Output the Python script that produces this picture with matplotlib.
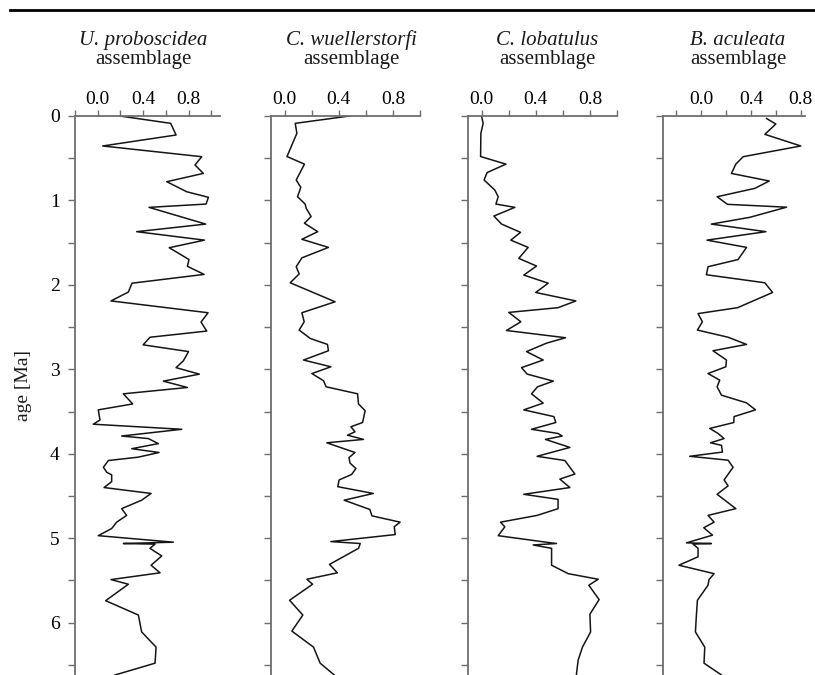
import matplotlib
matplotlib.use("Agg")
import matplotlib.pyplot as plt
from matplotlib.ticker import MultipleLocator, FixedLocator
from matplotlib.lines import Line2D

plt.rcParams['font.family'] = ['Liberation Serif', 'DejaVu Serif']

# ---- data ----
# U. proboscidea assemblage
age_up = [0.0, 0.087, 0.225, 0.355, 0.482, 0.58, 0.68, 0.778, 0.897, 0.963,
          1.043, 1.082, 1.28, 1.37, 1.47, 1.56, 1.70, 1.78, 1.876, 1.98,
          2.085, 2.19, 2.33, 2.44, 2.547, 2.62, 2.71, 2.79, 2.9, 2.98,
          3.057, 3.14, 3.215, 3.29, 3.41, 3.48, 3.60, 3.65, 3.71, 3.79,
          3.82, 3.88, 3.94, 3.985, 4.04, 4.08, 4.16, 4.22, 4.25, 4.33,
          4.40, 4.47, 4.55, 4.65, 4.73, 4.81, 4.885, 4.97, 5.047, 5.063,
          5.07, 5.12, 5.21, 5.32, 5.41, 5.49, 5.545, 5.74, 5.91, 6.11,
          6.29, 6.48, 6.62]
val_up = [0.196, 0.643, 0.69, 0.044, 0.916, 0.857, 0.93, 0.608, 0.784, 0.975,
          0.954, 0.452, 0.951, 0.343, 0.94, 0.63, 0.804, 0.79, 0.937, 0.302,
          0.27, 0.117, 0.972, 0.91, 0.96, 0.461, 0.40, 0.80, 0.754, 0.69,
          0.895, 0.578, 0.79, 0.226, 0.308, 0.005, 0.02, -0.039, 0.74, 0.211,
          0.446, 0.534, 0.30, 0.54, 0.358, 0.094, 0.05, 0.08, 0.123, 0.123,
          0.056, 0.47, 0.387, 0.211, 0.255, 0.167, 0.123, 0.005, 0.666, 0.226,
          0.505, 0.46, 0.564, 0.47, 0.549, 0.117, 0.27, 0.07, 0.358, 0.387,
          0.514, 0.505, 0.152]

# C. wuellerstorfi assemblage
age_cw = [0.0, 0.087, 0.205, 0.48, 0.57, 0.758, 0.845, 0.956, 1.043, 1.094,
          1.19, 1.27, 1.37, 1.46, 1.556, 1.68, 1.785, 1.87, 1.975, 2.2,
          2.33, 2.437, 2.535, 2.634, 2.705, 2.78, 2.89, 2.97, 3.05, 3.136,
          3.207, 3.29, 3.41, 3.49, 3.63, 3.68, 3.74, 3.78, 3.83, 3.87,
          3.985, 4.045, 4.11, 4.175, 4.245, 4.31, 4.39, 4.47, 4.55, 4.66,
          4.735, 4.81, 4.865, 4.957, 5.04, 5.063, 5.12, 5.31, 5.41, 5.486,
          5.545, 5.735, 5.91, 6.10, 6.29, 6.48, 6.62]
val_cw = [0.48, 0.079, 0.091, 0.018, 0.147, 0.086, 0.12, 0.096, 0.152, 0.16,
          0.196, 0.147, 0.245, 0.128, 0.324, 0.128, 0.086, 0.108, 0.042, 0.373,
          0.128, 0.145, 0.108, 0.189, 0.317, 0.324, 0.14, 0.342, 0.202, 0.288,
          0.307, 0.539, 0.546, 0.595, 0.576, 0.49, 0.52, 0.465, 0.583, 0.312,
          0.52, 0.476, 0.483, 0.527, 0.495, 0.403, 0.393, 0.655, 0.44, 0.63,
          0.645, 0.853, 0.81, 0.817, 0.342, 0.559, 0.546, 0.332, 0.39, 0.165,
          0.207, 0.037, 0.135, 0.054, 0.214, 0.263, 0.367]

# C. lobatulus assemblage
age_cl = [0.0, 0.087, 0.205, 0.48, 0.57, 0.67, 0.758, 0.877, 0.956, 1.043,
          1.082, 1.185, 1.28, 1.378, 1.47, 1.556, 1.686, 1.777, 1.884, 1.98,
          2.09, 2.19, 2.27, 2.326, 2.437, 2.54, 2.626, 2.69, 2.79, 2.89,
          2.98, 3.057, 3.14, 3.207, 3.29, 3.40, 3.48, 3.56, 3.63, 3.71,
          3.76, 3.79, 3.83, 3.925, 4.03, 4.08, 4.24, 4.30, 4.40, 4.48,
          4.54, 4.65, 4.73, 4.81, 4.865, 4.97, 5.04, 5.063, 5.08, 5.12,
          5.32, 5.42, 5.486, 5.557, 5.727, 5.90, 6.11, 6.29, 6.445, 6.62]
val_cl = [0.0, 0.012, -0.005, -0.007, 0.18, 0.041, 0.019, 0.098, 0.123, 0.106,
          0.246, 0.091, 0.148, 0.288, 0.216, 0.344, 0.275, 0.406, 0.312, 0.492,
          0.40, 0.696, 0.565, 0.201, 0.29, 0.184, 0.62, 0.48, 0.332, 0.455,
          0.295, 0.337, 0.53, 0.413, 0.369, 0.455, 0.312, 0.534, 0.548, 0.369,
          0.565, 0.595, 0.472, 0.652, 0.41, 0.615, 0.689, 0.578, 0.652, 0.312,
          0.565, 0.565, 0.41, 0.14, 0.172, 0.123, 0.443, 0.553, 0.381, 0.517,
          0.517, 0.64, 0.861, 0.792, 0.868, 0.80, 0.805, 0.745, 0.713, 0.70]

# B. aculeata assemblage
age_ba = [0.03, 0.095, 0.217, 0.355, 0.482, 0.57, 0.68, 0.77, 0.857, 0.956,
          1.046, 1.08, 1.2, 1.28, 1.37, 1.47, 1.556, 1.70, 1.785, 1.88,
          1.975, 2.09, 2.27, 2.34, 2.437, 2.535, 2.62, 2.705, 2.78, 2.89,
          2.97, 3.05, 3.128, 3.207, 3.306, 3.397, 3.48, 3.56, 3.63, 3.70,
          3.76, 3.82, 3.87, 3.90, 3.98, 4.03, 4.076, 4.16, 4.31, 4.38,
          4.48, 4.65, 4.73, 4.81, 4.876, 4.964, 5.055, 5.063, 5.07, 5.12,
          5.22, 5.32, 5.42, 5.49, 5.557, 5.735, 5.91, 6.11, 6.29, 6.48,
          6.62]
val_ba = [0.526, 0.60, 0.512, 0.80, 0.338, 0.279, 0.244, 0.547, 0.432, 0.129,
          0.212, 0.686, 0.391, 0.083, 0.52, 0.048, 0.365, 0.297, 0.056, 0.043,
          0.512, 0.574, 0.293, -0.024, 0.011, -0.029, 0.217, 0.365, 0.096, 0.204,
          0.199, 0.056, 0.15, 0.129, 0.164, 0.365, 0.437, 0.265, 0.263, 0.07,
          0.137, 0.185, 0.076, 0.164, 0.172, -0.091, 0.217, 0.257, 0.185, 0.217,
          0.129, 0.279, 0.056, 0.105, 0.022, 0.092, -0.117, 0.083, -0.064, -0.024,
          -0.024, -0.177, 0.105, 0.064, 0.056, -0.029, -0.037, -0.045, 0.03, 0.024,
          0.164]

series = [
    ("U. proboscidea", age_up, val_up, (-0.2, 1.077)),
    ("C. wuellerstorfi", age_cw, val_cw, (-0.1, 1.0)),
    ("C. lobatulus", age_cl, val_cl, (-0.1, 1.0)),
    ("B. aculeata", age_ba, val_ba, (-0.305, 0.834)),
]

# layout in pixels
W, H = 815, 675
ax_left = [75, 271, 468, 663]
ax_width = [145, 149, 149, 142]
ax_top = 116
title_cx = [143, 351, 547, 738]

spine_col = "#6e6e6e"

fig = plt.figure(figsize=(W / 100, H / 100), dpi=100)

for i, (name, ages, vals, xl) in enumerate(series):
    ax = fig.add_axes([ax_left[i] / W, 0, ax_width[i] / W, (H - ax_top) / H])
    ax.plot(vals, ages, color="#151515", lw=1.1)
    ax.set_xlim(*xl)
    ax.set_ylim(6.62, 0)

    for s in ("right", "bottom"):
        ax.spines[s].set_visible(False)
    for s in ("left", "top"):
        ax.spines[s].set_color(spine_col)
        ax.spines[s].set_linewidth(1.3)

    ax.xaxis.set_ticks_position("top")
    ax.xaxis.set_major_locator(FixedLocator([0.0, 0.4, 0.8]))
    ax.xaxis.set_minor_locator(FixedLocator([-0.2, 0.2, 0.6, 1.0]))
    ax.set_xticklabels(["0.0", "0.4", "0.8"])
    ax.tick_params(axis="x", which="both", direction="out", length=4,
                   width=1.0, color=spine_col, labelsize=14, pad=2)

    ax.yaxis.set_major_locator(MultipleLocator(1))
    ax.yaxis.set_minor_locator(MultipleLocator(0.5))
    ax.tick_params(axis="y", which="both", direction="out", length=5,
                   width=1.0, color=spine_col, labelsize=14, pad=6)
    if i > 0:
        ax.set_yticklabels([])
    ax.patch.set_alpha(0)

    fig.text(title_cx[i] / W, 1 - 45 / H, name, style="italic",
             fontsize=15, ha="center", va="baseline", color="#1a1a1a")
    fig.text(title_cx[i] / W, 1 - 64 / H, "assemblage",
             fontsize=15, ha="center", va="baseline", color="#1a1a1a")

fig.text(23 / W, 1 - 385 / H, "age [Ma]", rotation=90, fontsize=14,
         ha="center", va="center", color="#1a1a1a")

# top rule across the figure
fig.add_artist(Line2D([10 / W, 1.0], [1 - 10 / H, 1 - 10 / H],
                      transform=fig.transFigure, color="black", lw=2.0))

fig.savefig("out.png", dpi=100)
